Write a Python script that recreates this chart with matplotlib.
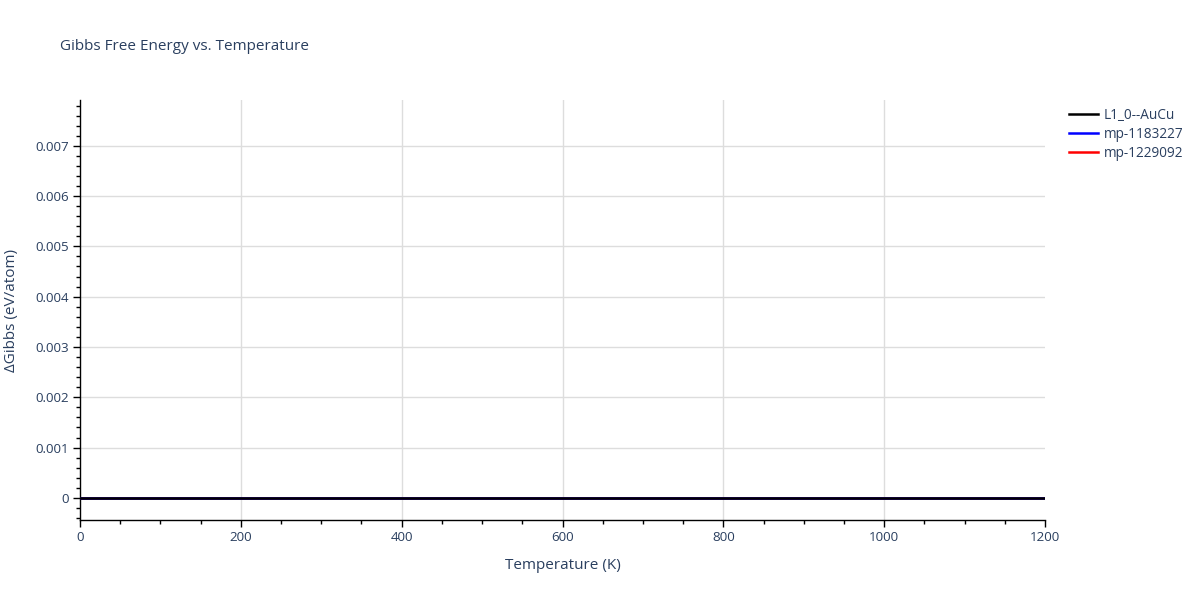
import matplotlib

matplotlib.use("Agg")

import matplotlib.pyplot as plt
import matplotlib.ticker as mticker

temperature = [0, 100, 200, 300, 400, 500, 600, 700, 800, 900, 1000, 1100, 1200]
gibbs_l10_aucu = [0, 0, 0, 0, 0, 0, 0, 0, 0, 0, 0, 0, 0]
gibbs_mp_1183227 = [0, 0, 0, 0, 0, 0, 0, 0, 0, 0, 0, 0, 0]
gibbs_mp_1229092 = [0, 0, 0, 0, 0, 0, 0, 0, 0, 0, 0, 0, 0]

series_names = ["L1_0--AuCu", "mp-1183227", "mp-1229092"]
series_colors = ["#000000", "#0000ff", "#ff0000"]

TEXT_COLOR = "#2a3f5f"
GRID_COLOR = "#dddddd"

plt.rcParams["font.family"] = ["Open Sans", "DejaVu Sans"]

fig = plt.figure(figsize=(12, 6), dpi=100, facecolor="white")
ax = fig.add_axes([80 / 1200, 80 / 600, 965 / 1200, 420 / 600])

series = [gibbs_l10_aucu, gibbs_mp_1183227, gibbs_mp_1229092]
zorders = [5, 4, 3]
handles = []
for name, values, color, z in zip(series_names, series, series_colors, zorders):
    (h,) = ax.plot(temperature, values, color=color, linewidth=1.8, label=name, zorder=z)
    handles.append(h)

ax.set_xlim(0, 1200)
ax.set_ylim(-0.00044, 0.00791)

ax.xaxis.set_major_locator(mticker.MultipleLocator(200))
ax.xaxis.set_minor_locator(mticker.MultipleLocator(50))
ax.yaxis.set_major_locator(mticker.MultipleLocator(0.001))
ax.yaxis.set_minor_locator(mticker.MultipleLocator(0.0002))


def fmt_y(v, pos):
    if abs(v) < 1e-12:
        return "0"
    return "{:.3f}".format(v)


ax.yaxis.set_major_formatter(mticker.FuncFormatter(fmt_y))

# horizontal grid from the axis, vertical grid only inside the plot area
ax.grid(axis="y", which="major", color=GRID_COLOR, linewidth=1)
xmin, xmax = ax.get_xlim()
for xt in ax.get_xticks():
    if xmin < xt < xmax:
        ax.axvline(xt, color=GRID_COLOR, linewidth=1, zorder=0.5)
ax.set_axisbelow(True)

for side in ["top", "right"]:
    ax.spines[side].set_visible(False)
for side in ["left", "bottom"]:
    ax.spines[side].set_color("black")
    ax.spines[side].set_linewidth(1)

ax.tick_params(which="major", direction="out", length=5, width=1, color="black",
               labelsize=9.6, labelcolor=TEXT_COLOR, pad=3)
ax.tick_params(which="minor", direction="out", length=3, width=1, color="black")

ax.set_xlabel("Temperature (K)", fontsize=11, color=TEXT_COLOR, labelpad=10)
ax.set_ylabel("ΔGibbs (eV/atom)", fontsize=11, color=TEXT_COLOR, labelpad=12)

fig.text(60 / 1200, 1 - 46 / 600, "Gibbs Free Energy vs. Temperature",
         fontsize=11, color=TEXT_COLOR, va="center", ha="left")

leg = fig.legend(handles=handles, loc="upper left", bbox_to_anchor=(1069 / 1200, 1 - 108 / 600),
                 frameon=False, fontsize=9.8, handlelength=2.1, handletextpad=0.45,
                 labelspacing=0.3, borderaxespad=0, borderpad=0)
for t in leg.get_texts():
    t.set_color(TEXT_COLOR)

fig.savefig("out.png", dpi=100)
